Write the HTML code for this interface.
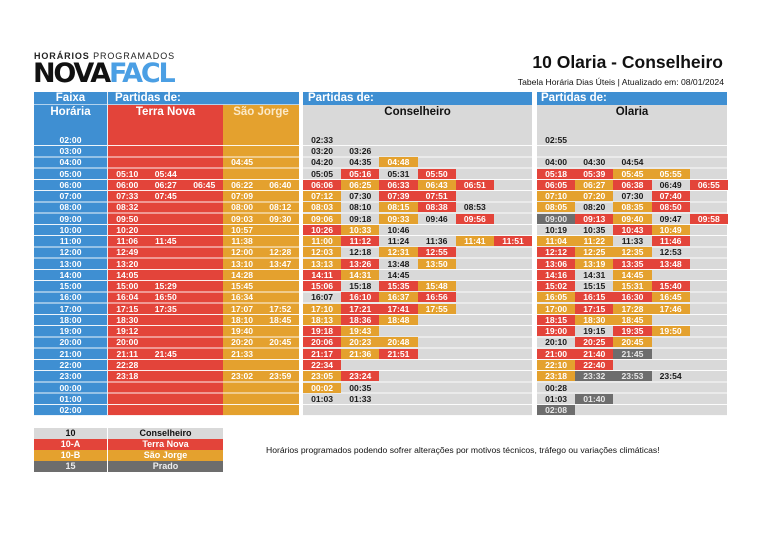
<!DOCTYPE html>
<html><head><meta charset="utf-8"><style>
*{margin:0;padding:0;box-sizing:border-box}
body{width:768px;height:543px;background:#fff;position:relative;overflow:hidden;font-family:"Liberation Sans",Arial,sans-serif}
.a{position:absolute}
.bl{background:#3f8fd2}.rd{background:#e3443a}.or{background:#e4a12e}.gr{background:#d9d9d9}
.hd{color:#fff;font-weight:bold;font-size:11.5px;line-height:13px}
.row{position:absolute;left:0;height:10px;white-space:nowrap;font-size:0}
.row span{display:inline-block;width:38.2px;height:10px;line-height:10px;font-size:8.6px;font-weight:bold;text-align:center;color:#1a1a1a;vertical-align:top}
.row span.r{background:#e3443a;color:#fff}
.row span.o{background:#e4a12e;color:#fff}
.row span.g{background:#6d6d6d;color:#e8e8e8}
.w span{color:#fff}
.tn span{width:38.5px}
.fx{position:absolute;left:34px;width:73px;text-align:center;color:#fff;font-weight:bold;font-size:8.6px;line-height:10px;height:10px}
.lines{position:absolute;left:34px;top:145px;width:693px;height:271px;background:repeating-linear-gradient(to bottom,rgba(255,255,255,.9) 0 1px,transparent 1px 11.26px)}
.lg{position:absolute;height:11px;line-height:11px;font-size:9px;font-weight:bold;text-align:center}
</style></head><body>
<!-- header -->
<div class="a" style="left:34px;top:51px;font-size:9px;letter-spacing:0.9px;color:#222;line-height:11px"><b>HORÁRIOS</b> PROGRAMADOS</div>
<div class="a" style="left:33px;top:61px;font-size:27px;font-weight:900;line-height:26px;letter-spacing:-2.2px;color:#111;font-family:'DejaVu Sans','Liberation Sans',sans-serif">NOVA<span style="color:#4b9fe4">FACL</span></div>
<div class="a" style="right:45px;top:52px;font-size:17.5px;font-weight:bold;color:#111;line-height:20px">10 Olaria - Conselheiro</div>
<div class="a" style="right:44px;top:77px;font-size:8.6px;color:#111;line-height:10px">Tabela Horária Dias Úteis | Atualizado em: 08/01/2024</div>

<!-- section backgrounds -->
<div class="a bl" style="left:34px;top:92px;width:73px;height:324px"></div>
<div class="a bl" style="left:108px;top:92px;width:191px;height:13px"></div>
<div class="a rd" style="left:108px;top:105px;width:115px;height:311px"></div>
<div class="a or" style="left:223px;top:105px;width:76px;height:311px"></div>
<div class="a bl" style="left:303px;top:92px;width:229px;height:13px"></div>
<div class="a gr" style="left:303px;top:105px;width:229px;height:311px"></div>
<div class="a bl" style="left:537px;top:92px;width:190px;height:13px"></div>
<div class="a gr" style="left:537px;top:105px;width:190px;height:311px"></div>
<div class="a" style="left:34px;top:104px;width:265px;height:1px;background:rgba(255,255,255,.6)"></div>
<div class="lines"></div>
<div class="a" style="left:299px;top:90px;width:4px;height:330px;background:#fff"></div>
<div class="a" style="left:532px;top:90px;width:5px;height:330px;background:#fff"></div>
<div class="a" style="left:107px;top:92px;width:1px;height:324px;background:#e8eef5"></div>

<!-- header texts -->
<div class="a hd" style="left:34px;top:92px;width:73px;text-align:center">Faixa</div>
<div class="a hd" style="left:34px;top:106px;width:73px;text-align:center">Horária</div>
<div class="a hd" style="left:115px;top:92px">Partidas de:</div>
<div class="a hd" style="left:108px;top:106px;width:115px;text-align:center">Terra Nova</div>
<div class="a hd" style="left:223px;top:106px;width:76px;text-align:center;color:#fbe9c8">São Jorge</div>
<div class="a hd" style="left:308px;top:92px">Partidas de:</div>
<div class="a hd" style="left:303px;top:106px;width:229px;text-align:center;color:#111">Conselheiro</div>
<div class="a hd" style="left:541px;top:92px">Partidas de:</div>
<div class="a hd" style="left:537px;top:106px;width:190px;text-align:center;color:#111">Olaria</div>

<!-- Faixa -->
<div class="fx" style="top:135px">02:00</div>
<div class="fx" style="top:146px">03:00</div>
<div class="fx" style="top:157.3px">04:00</div>
<div class="fx" style="top:168.5px">05:00</div>
<div class="fx" style="top:179.8px">06:00</div>
<div class="fx" style="top:191px">07:00</div>
<div class="fx" style="top:202.3px">08:00</div>
<div class="fx" style="top:213.6px">09:00</div>
<div class="fx" style="top:224.8px">10:00</div>
<div class="fx" style="top:236.1px">11:00</div>
<div class="fx" style="top:247.3px">12:00</div>
<div class="fx" style="top:258.6px">13:00</div>
<div class="fx" style="top:269.9px">14:00</div>
<div class="fx" style="top:281.1px">15:00</div>
<div class="fx" style="top:292.4px">16:00</div>
<div class="fx" style="top:303.6px">17:00</div>
<div class="fx" style="top:314.9px">18:00</div>
<div class="fx" style="top:326.2px">19:00</div>
<div class="fx" style="top:337.4px">20:00</div>
<div class="fx" style="top:348.7px">21:00</div>
<div class="fx" style="top:359.9px">22:00</div>
<div class="fx" style="top:371.2px">23:00</div>
<div class="fx" style="top:382.5px">00:00</div>
<div class="fx" style="top:393.7px">01:00</div>
<div class="fx" style="top:405px">02:00</div>

<!-- Terra Nova -->
<div class="a w tn" style="left:108px;top:0">
<div class="row" style="top:168.5px"><span>05:10</span><span>05:44</span></div>
<div class="row" style="top:179.8px"><span>06:00</span><span>06:27</span><span>06:45</span></div>
<div class="row" style="top:191px"><span>07:33</span><span>07:45</span></div>
<div class="row" style="top:202.3px"><span>08:32</span></div>
<div class="row" style="top:213.6px"><span>09:50</span></div>
<div class="row" style="top:224.8px"><span>10:20</span></div>
<div class="row" style="top:236.1px"><span>11:06</span><span>11:45</span></div>
<div class="row" style="top:247.3px"><span>12:49</span></div>
<div class="row" style="top:258.6px"><span>13:20</span></div>
<div class="row" style="top:269.9px"><span>14:05</span></div>
<div class="row" style="top:281.1px"><span>15:00</span><span>15:29</span></div>
<div class="row" style="top:292.4px"><span>16:04</span><span>16:50</span></div>
<div class="row" style="top:303.6px"><span>17:15</span><span>17:35</span></div>
<div class="row" style="top:314.9px"><span>18:30</span></div>
<div class="row" style="top:326.2px"><span>19:12</span></div>
<div class="row" style="top:337.4px"><span>20:00</span></div>
<div class="row" style="top:348.7px"><span>21:11</span><span>21:45</span></div>
<div class="row" style="top:359.9px"><span>22:28</span></div>
<div class="row" style="top:371.2px"><span>23:18</span></div>
</div>

<!-- Sao Jorge -->
<div class="a w" style="left:223px;top:0">
<div class="row" style="top:157.3px"><span>04:45</span></div>
<div class="row" style="top:179.8px"><span>06:22</span><span>06:40</span></div>
<div class="row" style="top:191px"><span>07:09</span></div>
<div class="row" style="top:202.3px"><span>08:00</span><span>08:12</span></div>
<div class="row" style="top:213.6px"><span>09:03</span><span>09:30</span></div>
<div class="row" style="top:224.8px"><span>10:57</span></div>
<div class="row" style="top:236.1px"><span>11:38</span></div>
<div class="row" style="top:247.3px"><span>12:00</span><span>12:28</span></div>
<div class="row" style="top:258.6px"><span>13:10</span><span>13:47</span></div>
<div class="row" style="top:269.9px"><span>14:28</span></div>
<div class="row" style="top:281.1px"><span>15:45</span></div>
<div class="row" style="top:292.4px"><span>16:34</span></div>
<div class="row" style="top:303.6px"><span>17:07</span><span>17:52</span></div>
<div class="row" style="top:314.9px"><span>18:10</span><span>18:45</span></div>
<div class="row" style="top:326.2px"><span>19:40</span></div>
<div class="row" style="top:337.4px"><span>20:20</span><span>20:45</span></div>
<div class="row" style="top:348.7px"><span>21:33</span></div>
<div class="row" style="top:371.2px"><span>23:02</span><span>23:59</span></div>
</div>

<!-- Conselheiro -->
<div class="a" style="left:303px;top:0">
<div class="row" style="top:135px"><span>02:33</span></div>
<div class="row" style="top:146px"><span>03:20</span><span>03:26</span></div>
<div class="row" style="top:157.3px"><span>04:20</span><span>04:35</span><span class="o">04:48</span></div>
<div class="row" style="top:168.5px"><span>05:05</span><span class="r">05:16</span><span>05:31</span><span class="r">05:50</span></div>
<div class="row" style="top:179.8px"><span class="r">06:06</span><span class="o">06:25</span><span class="r">06:33</span><span class="o">06:43</span><span class="r">06:51</span></div>
<div class="row" style="top:191px"><span class="o">07:12</span><span>07:30</span><span class="r">07:39</span><span class="r">07:51</span></div>
<div class="row" style="top:202.3px"><span class="o">08:03</span><span>08:10</span><span class="o">08:15</span><span class="r">08:38</span><span>08:53</span></div>
<div class="row" style="top:213.6px"><span class="o">09:06</span><span>09:18</span><span class="o">09:33</span><span>09:46</span><span class="r">09:56</span></div>
<div class="row" style="top:224.8px"><span class="r">10:26</span><span class="o">10:33</span><span>10:46</span></div>
<div class="row" style="top:236.1px"><span class="o">11:00</span><span class="r">11:12</span><span>11:24</span><span>11:36</span><span class="o">11:41</span><span class="r">11:51</span></div>
<div class="row" style="top:247.3px"><span class="o">12:03</span><span>12:18</span><span class="o">12:31</span><span class="r">12:55</span></div>
<div class="row" style="top:258.6px"><span class="o">13:13</span><span class="r">13:26</span><span>13:48</span><span class="o">13:50</span></div>
<div class="row" style="top:269.9px"><span class="r">14:11</span><span class="o">14:31</span><span>14:45</span></div>
<div class="row" style="top:281.1px"><span class="r">15:06</span><span>15:18</span><span class="r">15:35</span><span class="o">15:48</span></div>
<div class="row" style="top:292.4px"><span>16:07</span><span class="r">16:10</span><span class="o">16:37</span><span class="r">16:56</span></div>
<div class="row" style="top:303.6px"><span class="o">17:10</span><span class="r">17:21</span><span class="r">17:41</span><span class="o">17:55</span></div>
<div class="row" style="top:314.9px"><span class="o">18:13</span><span class="r">18:36</span><span class="o">18:48</span></div>
<div class="row" style="top:326.2px"><span class="r">19:18</span><span class="o">19:43</span></div>
<div class="row" style="top:337.4px"><span class="r">20:06</span><span class="o">20:23</span><span class="o">20:48</span></div>
<div class="row" style="top:348.7px"><span class="r">21:17</span><span class="o">21:36</span><span class="r">21:51</span></div>
<div class="row" style="top:359.9px"><span class="r">22:34</span></div>
<div class="row" style="top:371.2px"><span class="o">23:05</span><span class="r">23:24</span></div>
<div class="row" style="top:382.5px"><span class="o">00:02</span><span>00:35</span></div>
<div class="row" style="top:393.7px"><span>01:03</span><span>01:33</span></div>
</div>

<!-- Olaria -->
<div class="a" style="left:537px;top:0">
<div class="row" style="top:135px"><span>02:55</span></div>
<div class="row" style="top:157.3px"><span>04:00</span><span>04:30</span><span>04:54</span></div>
<div class="row" style="top:168.5px"><span class="r">05:18</span><span class="r">05:39</span><span class="o">05:45</span><span class="o">05:55</span></div>
<div class="row" style="top:179.8px"><span class="r">06:05</span><span class="o">06:27</span><span class="r">06:38</span><span>06:49</span><span class="r">06:55</span></div>
<div class="row" style="top:191px"><span class="o">07:10</span><span class="o">07:20</span><span>07:30</span><span class="r">07:40</span></div>
<div class="row" style="top:202.3px"><span class="o">08:05</span><span>08:20</span><span class="o">08:35</span><span class="r">08:50</span></div>
<div class="row" style="top:213.6px"><span class="g">09:00</span><span class="r">09:13</span><span class="o">09:40</span><span>09:47</span><span class="r">09:58</span></div>
<div class="row" style="top:224.8px"><span>10:19</span><span>10:35</span><span class="r">10:43</span><span class="o">10:49</span></div>
<div class="row" style="top:236.1px"><span class="o">11:04</span><span class="o">11:22</span><span>11:33</span><span class="r">11:46</span></div>
<div class="row" style="top:247.3px"><span class="r">12:12</span><span class="o">12:25</span><span class="o">12:35</span><span>12:53</span></div>
<div class="row" style="top:258.6px"><span class="r">13:06</span><span class="o">13:19</span><span class="r">13:35</span><span class="r">13:48</span></div>
<div class="row" style="top:269.9px"><span class="r">14:16</span><span>14:31</span><span class="o">14:45</span></div>
<div class="row" style="top:281.1px"><span class="r">15:02</span><span>15:15</span><span class="o">15:31</span><span class="r">15:40</span></div>
<div class="row" style="top:292.4px"><span class="o">16:05</span><span class="r">16:15</span><span class="r">16:30</span><span class="o">16:45</span></div>
<div class="row" style="top:303.6px"><span class="o">17:00</span><span class="r">17:15</span><span class="o">17:28</span><span class="o">17:46</span></div>
<div class="row" style="top:314.9px"><span class="r">18:15</span><span class="o">18:30</span><span class="o">18:45</span></div>
<div class="row" style="top:326.2px"><span class="r">19:00</span><span>19:15</span><span class="r">19:35</span><span class="o">19:50</span></div>
<div class="row" style="top:337.4px"><span>20:10</span><span class="r">20:25</span><span class="o">20:45</span></div>
<div class="row" style="top:348.7px"><span class="r">21:00</span><span class="r">21:40</span><span class="g">21:45</span></div>
<div class="row" style="top:359.9px"><span class="o">22:10</span><span class="r">22:40</span></div>
<div class="row" style="top:371.2px"><span class="o">23:18</span><span class="g">23:32</span><span class="g">23:53</span><span>23:54</span></div>
<div class="row" style="top:382.5px"><span>00:28</span></div>
<div class="row" style="top:393.7px"><span>01:03</span><span class="g">01:40</span></div>
<div class="row" style="top:405px"><span class="g">02:08</span></div>
</div>

<!-- legend -->
<div class="lg gr" style="left:34px;top:428px;width:73px;color:#111">10</div>
<div class="lg gr" style="left:108px;top:428px;width:115px;color:#111">Conselheiro</div>
<div class="lg rd" style="left:34px;top:439px;width:73px;color:#fff">10-A</div>
<div class="lg rd" style="left:108px;top:439px;width:115px;color:#fff">Terra Nova</div>
<div class="lg or" style="left:34px;top:450px;width:73px;color:#fff">10-B</div>
<div class="lg or" style="left:108px;top:450px;width:115px;color:#fff">São Jorge</div>
<div class="lg" style="left:34px;top:461px;width:73px;color:#eee;background:#6d6d6d">15</div>
<div class="lg" style="left:108px;top:461px;width:115px;color:#eee;background:#6d6d6d">Prado</div>
<div class="a" style="left:266px;top:445px;font-size:8.6px;color:#111;line-height:10px;white-space:nowrap">Horários programados podendo sofrer alterações por motivos técnicos, tráfego ou variações climáticas!</div>
</body></html>
